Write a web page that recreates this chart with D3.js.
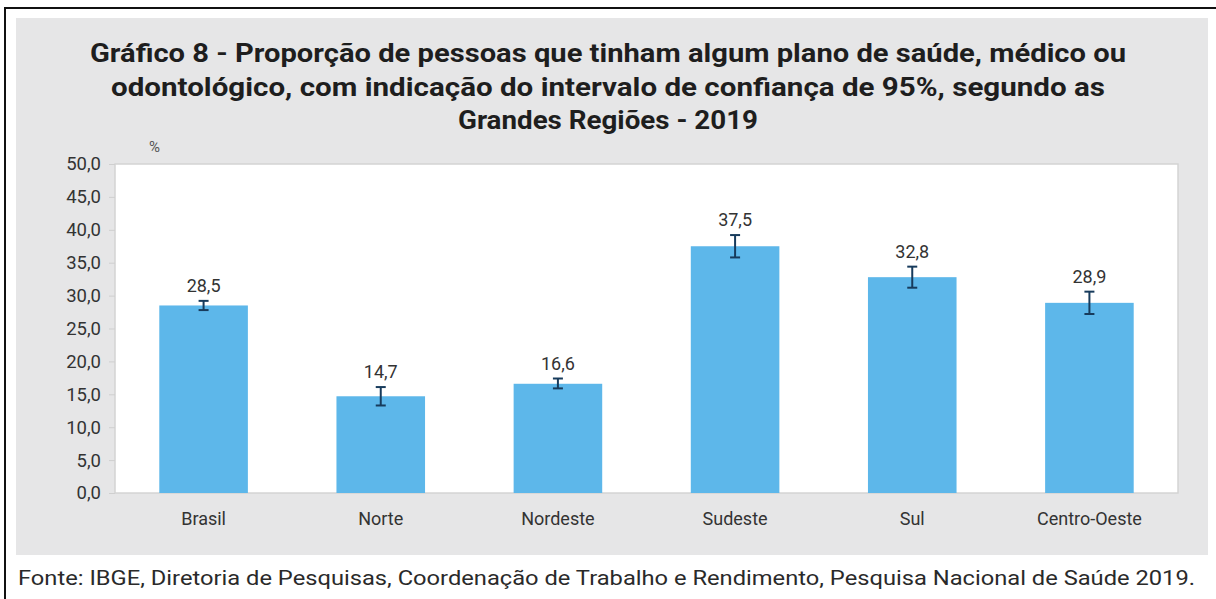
<!DOCTYPE html>
<html>
<head>
<meta charset="utf-8">
<script src="https://cdn.jsdelivr.net/npm/d3@7"></script>
<style>
  body { margin: 0; background: #fff; }
  svg { display: block; }
</style>
</head>
<body>
<svg id="svg-main" width="1216" height="599"></svg>
<script>
// data
var regions = ["Brasil", "Norte", "Nordeste", "Sudeste", "Sul", "Centro-Oeste"];
var values = [28.5, 14.7, 16.6, 37.5, 32.8, 28.9];
var ciLow = [27.8, 13.3, 15.9, 35.8, 31.2, 27.2];
var ciHigh = [29.2, 16.1, 17.4, 39.2, 34.4, 30.6];
var yTicks = [0, 5, 10, 15, 20, 25, 30, 35, 40, 45, 50];

var titleLines = [
    "Gráfico 8 - Proporção de pessoas que tinham algum plano de saúde, médico ou",
    "odontológico, com indicação do intervalo de confiança de 95%, segundo as",
    "Grandes Regiões - 2019"
];
var source = "Fonte: IBGE, Diretoria de Pesquisas, Coordenação de Trabalho e Rendimento, Pesquisa Nacional de Saúde 2019.";

var svg = d3.select("#svg-main");
var font = "Roboto, 'Liberation Sans', sans-serif";

// frame + grey panel
svg.append("rect").attr("x", 16).attr("y", 18).attr("width", 1192).attr("height", 537).attr("fill", "#e6e6e7");
svg.append("line").attr("x1", 4).attr("x2", 1216).attr("y1", 8).attr("y2", 8).attr("stroke", "#111").attr("stroke-width", 2);
svg.append("line").attr("x1", 5).attr("x2", 5).attr("y1", 7).attr("y2", 599).attr("stroke", "#111").attr("stroke-width", 2);

// title
var titleWidths = [1036, 994, 300];
titleLines.forEach(function(t, i) {
    svg.append("text")
      .attr("x", 608)
      .attr("y", 62 + i * 33.5)
      .attr("text-anchor", "middle")
      .attr("font-family", font)
      .attr("font-weight", "bold")
      .attr("font-size", "26px")
      .attr("fill", "#1e1e1e")
      .attr("textLength", titleWidths[i])
      .attr("lengthAdjust", "spacingAndGlyphs")
      .text(t);
});

var plot = {left: 115, right: 1178, top: 164, bottom: 493};

var x = d3.scaleBand().domain(regions).range([plot.left, plot.right]).paddingInner(0.5).paddingOuter(0.25);
var y = d3.scaleLinear().domain([0, 50]).range([plot.bottom, plot.top]);

svg.append("rect")
  .attr("x", plot.left).attr("y", plot.top)
  .attr("width", plot.right - plot.left).attr("height", plot.bottom - plot.top)
  .attr("fill", "#fff").attr("stroke", "#d4d4d4").attr("stroke-width", 1.5);

// y axis
var yAxis = svg.append("g")
  .attr("transform", "translate(" + plot.left + ",0)")
  .call(d3.axisLeft(y).tickValues(yTicks).tickSize(6).tickPadding(8)
        .tickFormat(function(d) { return d3.format(".1f")(d).replace(".", ","); }));
yAxis.select(".domain").remove();
yAxis.selectAll("line").attr("stroke", "#cfcfcf");
yAxis.selectAll("text").attr("font-family", font).attr("font-size", "18.5px").attr("fill", "#333");

svg.append("text").attr("x", 149).attr("y", 152)
  .attr("font-family", font).attr("font-size", "15px").attr("fill", "#555").text("%");

// x labels
var xAxis = svg.append("g")
  .attr("transform", "translate(0," + plot.bottom + ")")
  .call(d3.axisBottom(x).tickSize(0).tickPadding(19));
xAxis.select(".domain").remove();
xAxis.selectAll("text").attr("font-family", font).attr("font-size", "18px").attr("fill", "#333");

// bars
svg.selectAll(".bar")
  .data(regions)
  .enter().append("rect")
  .attr("class", "bar")
  .attr("x", function(d) { return x(d); })
  .attr("y", function(d, i) { return y(values[i]); })
  .attr("width", x.bandwidth())
  .attr("height", function(d, i) { return y(0) - y(values[i]); })
  .attr("fill", "#5db7ea");

// error bars
var eb = svg.selectAll(".err").data(regions).enter().append("g").attr("class", "err")
  .attr("stroke", "#173b5c").attr("stroke-width", 2);
eb.append("line")
  .attr("x1", function(d) { return x(d) + x.bandwidth() / 2; })
  .attr("x2", function(d) { return x(d) + x.bandwidth() / 2; })
  .attr("y1", function(d, i) { return y(ciLow[i]); })
  .attr("y2", function(d, i) { return y(ciHigh[i]); });
[ciLow, ciHigh].forEach(function(arr) {
    eb.append("line")
      .attr("x1", function(d) { return x(d) + x.bandwidth() / 2 - 5; })
      .attr("x2", function(d) { return x(d) + x.bandwidth() / 2 + 5; })
      .attr("y1", function(d, i) { return y(arr[i]); })
      .attr("y2", function(d, i) { return y(arr[i]); });
});

// value labels
svg.selectAll(".val")
  .data(regions)
  .enter().append("text")
  .attr("x", function(d) { return x(d) + x.bandwidth() / 2; })
  .attr("y", function(d, i) { return y(ciHigh[i]) - 9; })
  .attr("text-anchor", "middle")
  .attr("font-family", font)
  .attr("font-size", "18px")
  .attr("fill", "#333")
  .text(function(d, i) { return d3.format(".1f")(values[i]).replace(".", ","); });

// source
svg.append("text")
  .attr("x", 18).attr("y", 585)
  .attr("font-family", font).attr("font-size", "20px").attr("fill", "#2a2a2a")
  .attr("textLength", 1177).attr("lengthAdjust", "spacingAndGlyphs")
  .text(source);
</script>
</body>
</html>
